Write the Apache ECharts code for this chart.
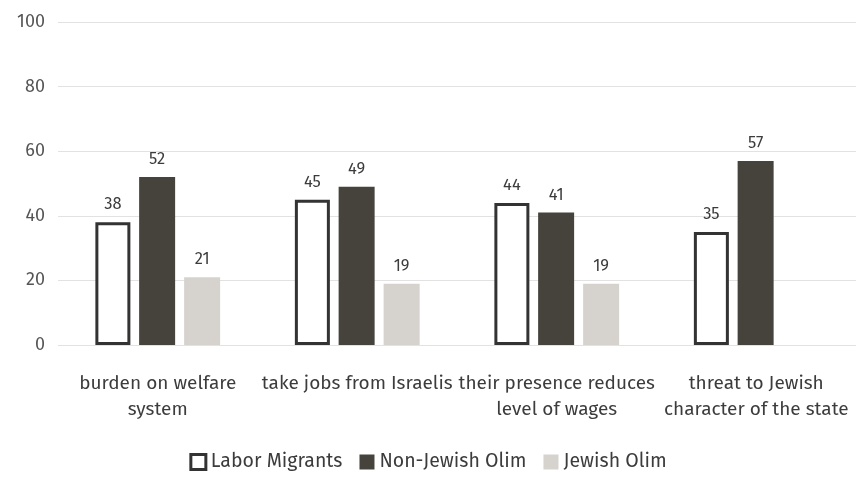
<!DOCTYPE html>
<html><head><meta charset="utf-8">
<script src="https://cdn.jsdelivr.net/npm/echarts@6/dist/echarts.min.js"></script>
<style>html,body{margin:0;padding:0;background:#fff}#c{width:856px;height:477px}</style>
</head><body><div id="c"></div>
<script>
const categories = ['burden on welfare\nsystem', 'take jobs from Israelis', 'their presence reduces\nlevel of wages', 'threat to Jewish\ncharacter of the state'];
const laborMigrants = [38, 45, 44, 35];
const nonJewishOlim = [52, 49, 41, 57];
const jewishOlim = [21, 19, 19, null];
const yTicks = [0, 20, 40, 60, 80, 100];

const chart = echarts.init(document.getElementById('c'));
const font = 'Fira Sans, "Open Sans", "Noto Sans", sans-serif';
const lbl = {show: true, position: 'top', distance: 9, color: '#3c3c3c', fontSize: 16.5, fontFamily: font};
chart.setOption({
  animation: false,
  backgroundColor: '#fff',
  grid: {left: 58, right: -6, top: 22, bottom: 132},
  legend: {
    bottom: 0, left: 'center', itemWidth: 15, itemHeight: 15, itemGap: 17,
    textStyle: {fontSize: 19.5, color: '#3c3c3c', fontFamily: font},
    data: [
      {name: 'Labor Migrants', icon: 'rect', itemStyle: {color: '#fff', borderColor: '#333', borderWidth: 3}},
      {name: 'Non-Jewish Olim', icon: 'rect'},
      {name: 'Jewish Olim', icon: 'rect'}
    ]
  },
  xAxis: {
    type: 'category', data: categories,
    axisLine: {show: false}, axisTick: {show: false},
    axisLabel: {color: '#3c3c3c', fontSize: 19, fontFamily: font, margin: 26, lineHeight: 26, interval: 0}
  },
  yAxis: {
    type: 'value', min: yTicks[0], max: yTicks[yTicks.length - 1], interval: 20,
    axisLine: {show: false}, axisTick: {show: false},
    axisLabel: {color: '#555', fontSize: 18, fontFamily: font, margin: 13},
    splitLine: {lineStyle: {color: '#e2e2e2', width: 1}}
  },
  series: [
    {name: 'Labor Migrants', type: 'bar', data: laborMigrants, barWidth: 35, barGap: '25%',
     itemStyle: {color: '#fff', borderColor: '#333', borderWidth: 3}, label: lbl},
    {name: 'Non-Jewish Olim', type: 'bar', data: nonJewishOlim, barWidth: 36,
     itemStyle: {color: '#46423c'}, label: lbl},
    {name: 'Jewish Olim', type: 'bar', data: jewishOlim, barWidth: 36,
     itemStyle: {color: '#d6d2ce'}, label: lbl}
  ]
});
</script></body></html>
